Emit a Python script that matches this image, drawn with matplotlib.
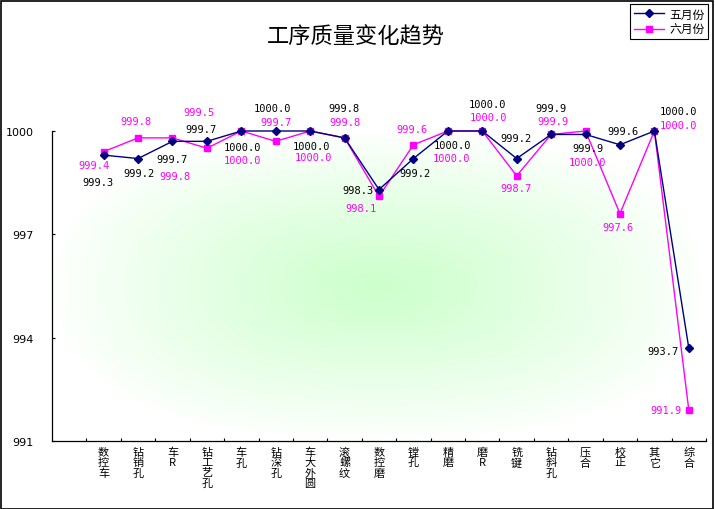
import numpy as np
import matplotlib
matplotlib.use("Agg")
import matplotlib.pyplot as plt
from matplotlib.patches import Rectangle

plt.rcParams['font.family'] = ['Noto Sans CJK SC', 'DejaVu Sans']

# data
categories = ['', '数控车', '钻销孔', '车R', '钻工艺孔', '车孔', '钻深孔', '车大外圆', '滚螺纹',
              '数控磨', '镗孔', '精磨', '磨R', '铣键', '钻斜孔', '压合', '校正', '其它', '综合']
may = [999.3, 999.2, 999.7, 999.7, 1000.0, 1000.0, 1000.0, 999.8, 998.3,
       999.2, 1000.0, 1000.0, 999.2, 999.9, 999.9, 999.6, 1000.0, 993.7]
june = [999.4, 999.8, 999.8, 999.5, 1000.0, 999.7, 1000.0, 999.8, 998.1,
        999.6, 1000.0, 1000.0, 998.7, 999.9, 1000.0, 997.6, 1000.0, 991.9]
y_ticks = [991, 994, 997, 1000]

# label offsets in screen pixels (dx right, dy down)
may_off = [(-6, 27), (1, 14), (0, 18), (-6, -12), (1, 16), (-3, -23), (1, 15), (-1, -30), (-21, 0),
           (2, 14), (5, 14), (5, -27), (-1, -21), (0, -26), (2, 14), (3, -14), (24, -20), (-26, 3)]
june_off = [(-10, 13), (-2, -17), (3, 38), (-8, -36), (1, 29), (0, -19), (3, 26), (0, -16), (-18, 12),
            (-1, -16), (4, 27), (6, -14), (-1, 12), (2, -13), (2, 31), (-2, 13), (24, -6), (-23, 0)]

W, H = 715, 510
fig = plt.figure(figsize=(W / 100, H / 100), dpi=100)
fig.patch.set_facecolor('white')

ax = fig.add_axes([52 / W, 1 - 442 / H, (706 - 52) / W, (442 - 132) / H])

# background gradient from center
gx = np.linspace(-1, 1, 300)
gy = np.linspace(-1, 1, 200)
u, v = np.meshgrid(gx, gy)
r = np.clip((np.abs(u) ** 2.5 + np.abs(v) ** 2.5) ** (1 / 2.5), 0, 1)
t = (1 - r) ** 0.9
c0 = np.array([1.0, 1.0, 1.0])
c1 = np.array([0xcc, 0xff, 0xcc]) / 255
img = c0[None, None, :] * (1 - t[..., None]) + c1[None, None, :] * t[..., None]
ax.imshow(img, extent=[-0.5, 18.5, 991, 1000], aspect='auto', zorder=0, interpolation='bilinear')

x = np.arange(1, len(categories))
ax.plot(x, may, color='#000080', lw=1.0, marker='D', ms=4.5, label='五月份', zorder=3, clip_on=False)
ax.plot(x, june, color='#ff00ff', lw=1.0, marker='s', ms=5, label='六月份', zorder=2, clip_on=False)

for xi, val, (dx, dy) in zip(x, may, may_off):
    ax.annotate(f'{val:.1f}', (xi, val), xytext=(dx, -dy), textcoords='offset pixels',
                ha='center', va='center', fontsize=7.5, family='DejaVu Sans Mono',
                color='black', zorder=5, annotation_clip=False)
for xi, val, (dx, dy) in zip(x, june, june_off):
    ax.annotate(f'{val:.1f}', (xi, val), xytext=(dx, -dy), textcoords='offset pixels',
                ha='center', va='center', fontsize=7.5, family='DejaVu Sans Mono',
                color='#ff00ff', zorder=5, annotation_clip=False)

ax.set_xlim(-0.5, 18.5)
ax.set_ylim(991, 1000)
ax.set_yticks(y_ticks)
ax.set_yticklabels([str(t) for t in y_ticks], fontsize=8, family='DejaVu Sans')
ax.tick_params(axis='y', direction='in', length=2.5, width=0.8, pad=13)

ax.set_xticks(x)
ax.set_xticklabels(['\n'.join(c) for c in categories[1:]], fontsize=8, linespacing=1.05,
                   va='top')
ax.set_xticks(np.arange(0.5, 19, 1), minor=True)
ax.tick_params(axis='x', which='major', length=0, pad=4)
ax.tick_params(axis='x', which='minor', direction='in', length=2.5, width=0.8)

for s in ['top', 'right']:
    ax.spines[s].set_visible(False)
ax.spines['left'].set_linewidth(0.9)
ax.spines['bottom'].set_linewidth(0.9)

fig.text(356 / W, 1 - 37 / H, '工序质量变化趋势', ha='center', va='center', fontsize=16)

leg = fig.legend(loc='upper right', bbox_to_anchor=(708 / W, 1 - 5 / H), fontsize=8.5,
                 frameon=True, fancybox=False, edgecolor='black', framealpha=1,
                 handlelength=2.6, borderpad=0.3, labelspacing=0.2, handletextpad=0.4,
                 borderaxespad=0)
leg.get_frame().set_linewidth(0.8)

fig.patches.append(Rectangle((0.5 / W, 0.5 / H), (W - 3) / W, (H - 2.5) / H, transform=fig.transFigure,
                             fill=False, edgecolor='black', lw=1.2))

fig.savefig('out.png', dpi=100)
